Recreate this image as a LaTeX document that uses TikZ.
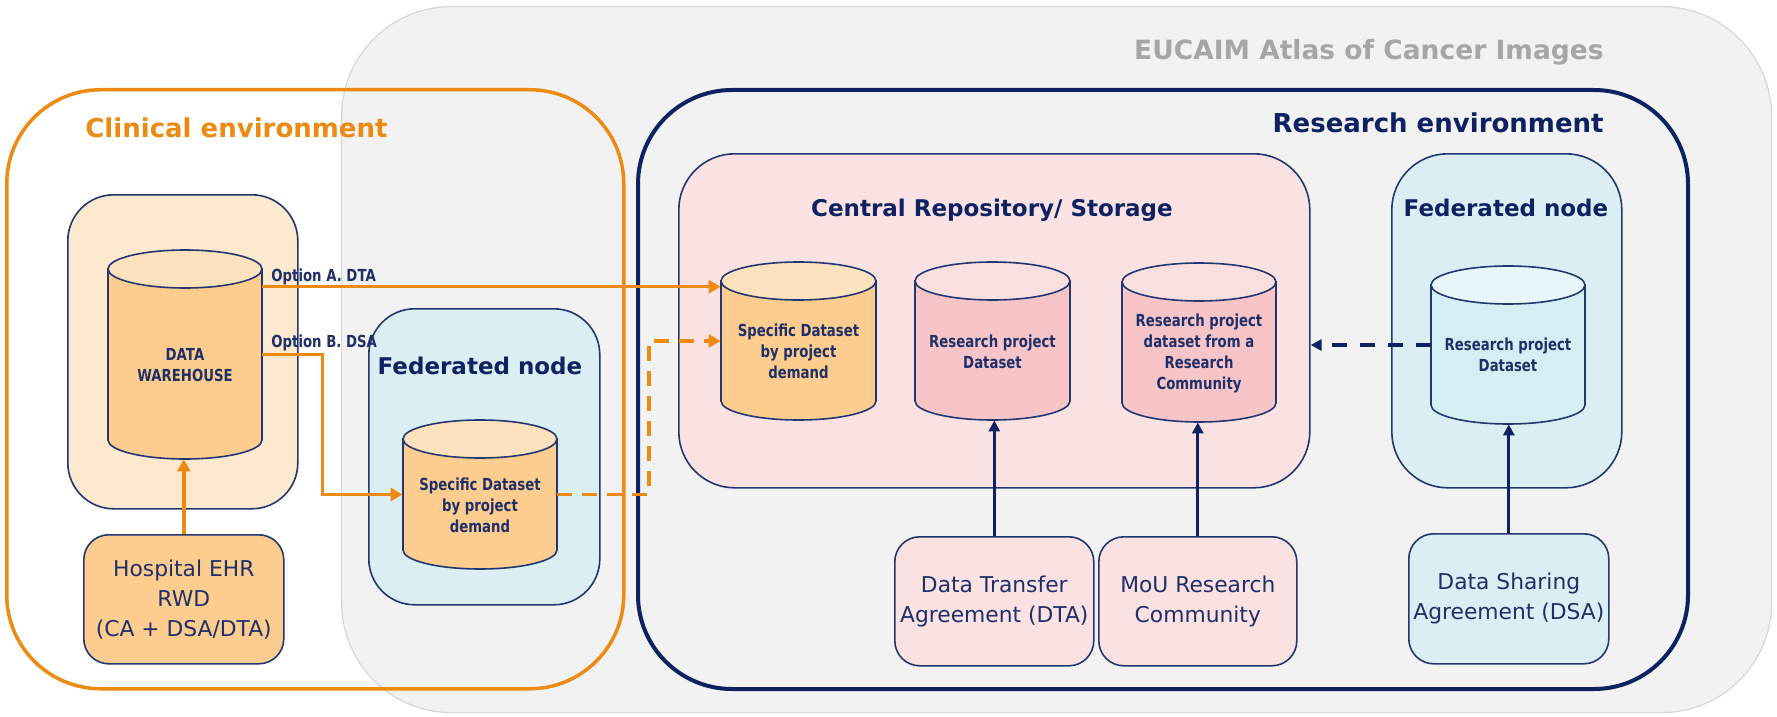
\documentclass[tikz,border=0pt]{standalone}
\usepackage{fontspec}
\setmainfont{DejaVu Sans}
\newfontfamily\cylfont[FakeStretch=0.8]{DejaVu Sans}
\usetikzlibrary{arrows.meta,calc}
\definecolor{navy}{HTML}{0E2262}
\definecolor{navyline}{HTML}{22376F}
\definecolor{txtnavy}{HTML}{1F2F68}
\definecolor{orng}{HTML}{EC8A12}
\definecolor{grayfill}{HTML}{F2F2F2}
\definecolor{grayline}{HTML}{D6D6D6}
\definecolor{graytext}{HTML}{A6A6A6}
\definecolor{peach}{HTML}{FDE8D0}
\definecolor{cylor}{HTML}{FDCD8F}
\definecolor{cylortop}{HTML}{FDE2BD}
\definecolor{fedblue}{HTML}{DBEEF4}
\definecolor{pinkbox}{HTML}{FAE1E2}
\definecolor{cylpink}{HTML}{F7C5C8}
\definecolor{cylpinktop}{HTML}{FADFE0}
\definecolor{cylblue}{HTML}{D3EFF3}
\definecolor{cylbluetop}{HTML}{E7F6F9}
\tikzset{
  area/.style={inner sep=0pt, anchor=north west},
  innerbox/.style={area, draw=navyline, line width=0.8pt},
  agreebox/.style={innerbox, rounded corners=12.5pt, text=txtnavy, align=center,
    font=\fontsize{10.9pt}{15pt}\selectfont},
  bigtitle/.style={font=\fontsize{13pt}{15pt}\selectfont\bfseries, inner sep=0pt},
  midtitle/.style={font=\fontsize{11.5pt}{13pt}\selectfont\bfseries, text=navy, inner sep=0pt},
  cyltext/.style={font=\cylfont\fontsize{8.3pt}{10.5pt}\selectfont\bfseries, text=txtnavy, align=center, inner sep=0pt},
  cylbody/.style={draw=navyline, line width=0.8pt},
  oarr/.style={draw=orng, line width=1.75pt, -{Triangle[length=6pt,width=6.5pt]}},
  odash/.style={oarr, dash pattern=on 7.5pt off 5pt},
  narr/.style={draw=navy, line width=1.6pt, -{Triangle[length=5.5pt,width=5.5pt]}},
  ndash/.style={narr, dash pattern=on 7.5pt off 6.5pt},
}
% name, cx, cy, w, h, body colour, top colour (all in px)
\newcommand\dbcyl[7]{%
  \pgfmathsetmacro\cyL{#2-#4/2}%
  \pgfmathsetmacro\cyR{#2+#4/2}%
  \pgfmathsetmacro\cyT{#3-#5/2+19}%
  \pgfmathsetmacro\cyTop{#3-#5/2}%
  \pgfmathsetmacro\cyTlow{#3-#5/2+38}%
  \pgfmathsetmacro\cyB{#3+#5/2-19}%
  \pgfmathsetmacro\cyBot{#3+#5/2}%
  \pgfmathsetmacro\cyKx{0.5523*#4/2}%
  \pgfmathsetmacro\cyKy{0.5523*19}%
  \pgfmathsetmacro\cyW{#4/2}%
  \pgfmathsetmacro\cyH{#5/2}%
  \filldraw[cylbody, fill=#6] (\cyL,\cyT) -- (\cyL,\cyB)
    .. controls (\cyL,\cyB+\cyKy) and (#2-\cyKx,\cyBot) .. (#2,\cyBot)
    .. controls (#2+\cyKx,\cyBot) and (\cyR,\cyB+\cyKy) .. (\cyR,\cyB)
    -- (\cyR,\cyT) -- cycle;
  \filldraw[cylbody, fill=#7] (\cyL,\cyT)
    .. controls (\cyL,\cyT-\cyKy) and (#2-\cyKx,\cyTop) .. (#2,\cyTop)
    .. controls (#2+\cyKx,\cyTop) and (\cyR,\cyT-\cyKy) .. (\cyR,\cyT)
    .. controls (\cyR,\cyT+\cyKy) and (#2+\cyKx,\cyTlow) .. (#2,\cyTlow)
    .. controls (#2-\cyKx,\cyTlow) and (\cyL,\cyT+\cyKy) .. (\cyL,\cyT) -- cycle;
  \node[inner sep=0pt, minimum width=\cyW pt, minimum height=\cyH pt] (#1) at (#2,#3) {};
}
\begin{document}
\begin{tikzpicture}[x=0.5pt,y=-0.5pt]
\useasboundingbox (0,0) rectangle (1777,717);
% EUCAIM atlas area
\node[area, draw=grayline, fill=grayfill, line width=0.6pt, rounded corners=55pt,
  minimum width=715pt, minimum height=353pt] (atlas) at (341,6) {};
\node[bigtitle, text=graytext, anchor=east, font=\fontsize{13.25pt}{15pt}\selectfont\bfseries] (atlast) at (1604,52) {EUCAIM Atlas of Cancer Images};
% clinical environment
\node[area, draw=orng, line width=1.75pt, rounded corners=47pt,
  minimum width=308.5pt, minimum height=299.5pt] (clin) at (5,88) {};
\node[bigtitle, text=orng, anchor=west] (clint) at (85,128) {Clinical environment};
% research environment
\node[area, draw=navy, line width=2pt, rounded corners=47pt,
  minimum width=525pt, minimum height=299.5pt] (res) at (636,88) {};
\node[bigtitle, text=navy, anchor=east] (rest) at (1604,123) {Research environment};
% inner boxes
\node[innerbox, fill=peach, rounded corners=23pt, minimum width=115pt, minimum height=157pt] (dwbox) at (67,194) {};
\node[innerbox, fill=fedblue, rounded corners=23pt, minimum width=115.5pt, minimum height=148pt] (fedc) at (368,308) {};
\node[midtitle] (fedct) at (480,366) {Federated node};
\node[innerbox, fill=pinkbox, rounded corners=28pt, minimum width=315.5pt, minimum height=167pt] (crbox) at (678,153) {};
\node[midtitle] (crt) at (992,210) {Central Repository/ Storage};
\node[innerbox, fill=fedblue, rounded corners=28pt, minimum width=115pt, minimum height=167pt] (fedr) at (1391,153) {};
\node[midtitle] (fedrt) at (1506,208) {Federated node};
% agreement boxes
\node[agreebox, fill=cylor, minimum width=100pt, minimum height=64.5pt] (hosp) at (83,534) {Hospital EHR\\RWD\\(CA + DSA/DTA)};
\node[agreebox, fill=pinkbox, minimum width=99.5pt, minimum height=64.5pt] (dta) at (894,536) {Data Transfer\\Agreement (DTA)};
\node[agreebox, fill=pinkbox, minimum width=99pt, minimum height=64.5pt] (mou) at (1098,536) {MoU Research\\Community};
\node[agreebox, fill=fedblue, minimum width=100pt, minimum height=65pt] (dsa) at (1408,533) {Data Sharing\\Agreement (DSA)};
% cylinders
\dbcyl{dw}{185}{354.5}{154}{209}{cylor}{cylortop}
\node[cyltext] (dwt) at (185,365.5) {DATA\\WAREHOUSE};
\dbcyl{fc}{480}{494.5}{154}{149}{cylor}{cylortop}
\node[cyltext] (fct) at (480,505) {Specific Dataset\\by project\\demand};
\dbcyl{cs1}{798.5}{341}{155}{158}{cylor}{cylortop}
\node[cyltext] (cs1t) at (798.5,351) {Specific Dataset\\by project\\demand};
\dbcyl{cr2}{992.5}{341}{155}{158}{cylpink}{cylpinktop}
\node[cyltext] (cr2t) at (992.5,352) {Research project\\Dataset};
\dbcyl{cr3}{1199}{342.5}{154}{159}{cylpink}{cylpinktop}
\node[cyltext] (cr3t) at (1199,353.5) {Research project\\dataset from a\\Research\\Community};
\dbcyl{fr}{1508}{345}{154}{158}{cylblue}{cylbluetop}
\node[cyltext] (frt) at (1508,354.5) {Research project\\Dataset};
% option labels
\node[cyltext, anchor=west] (optA) at (271,277) {Option A. DTA};
\node[cyltext, anchor=west] (optB) at (271,343) {Option B. DSA};
% connectors
\coordinate (oA) at ($(dw.north east)!0.177!(dw.south east)$);
\draw[oarr] (oA) -- (oA -| cs1.west);
\draw[oarr] (dw.east) -| ($(dw.east)!0.43!(fc.west)$) |- (fc.west);
\draw[odash] (fc.east) -| ($(fc.east)!0.56!(cs1.west)$) |- (cs1.west);
\draw[oarr] (hosp.north) -- (hosp.north |- dw.south);
\draw[narr] (dta.north) -- (dta.north |- cr2.south);
\draw[narr] (mou.north) -- (mou.north |- cr3.south);
\draw[narr] (dsa.north) -- (dsa.north |- fr.south);
\draw[ndash] (fr.west) -- (fr.west -| crbox.east);
\end{tikzpicture}
\end{document}
